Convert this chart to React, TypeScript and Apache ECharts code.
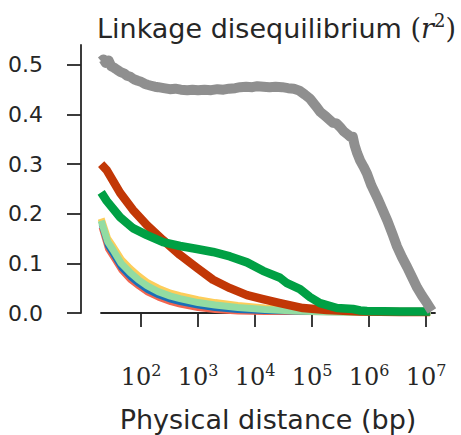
import React, { useEffect, useRef } from "react";
import * as echarts from "echarts";

// Physical distance (bp) and r^2 values for each curve
const grayDist = [20, 22, 24, 27, 30, 34, 38, 43, 50, 57, 65, 75, 88, 100, 115, 130, 150, 175, 200, 250, 320, 400, 500, 650, 800, 1000, 1300, 1700, 2200, 2800, 3500, 4500, 5500, 7000, 9000, 11000, 14000, 18000, 23000, 30000, 38000, 48000, 60000, 75000, 92000, 115000, 140000, 170000, 200000, 235000, 270000, 310000, 360000, 420000, 470000, 520000, 560000, 620000, 700000, 800000, 920000, 1100000, 1400000, 1700000, 2100000, 2600000, 3100000, 3800000, 4700000, 5700000, 7000000, 8500000, 10400000, 12700000];
const grayR2 = [0.507, 0.511, 0.504, 0.509, 0.497, 0.494, 0.49, 0.486, 0.483, 0.478, 0.476, 0.471, 0.468, 0.466, 0.462, 0.46, 0.458, 0.456, 0.455, 0.453, 0.451, 0.452, 0.45, 0.449, 0.45, 0.449, 0.45, 0.449, 0.451, 0.45, 0.452, 0.453, 0.455, 0.456, 0.455, 0.457, 0.456, 0.455, 0.456, 0.455, 0.453, 0.452, 0.448, 0.44, 0.432, 0.418, 0.405, 0.397, 0.39, 0.383, 0.382, 0.375, 0.366, 0.36, 0.355, 0.355, 0.338, 0.322, 0.307, 0.295, 0.281, 0.257, 0.232, 0.21, 0.186, 0.158, 0.134, 0.112, 0.092, 0.072, 0.051, 0.035, 0.02, 0.004];

const redDist = [20, 25, 43, 72, 127, 243, 483, 960, 1830, 3640, 7240, 13800, 27500, 69500, 183000, 692000, 3470000, 11700000];
const redR2 = [0.3, 0.288, 0.242, 0.208, 0.177, 0.147, 0.117, 0.091, 0.067, 0.05, 0.036, 0.028, 0.02, 0.01, 0.006, 0.003, 0.002, 0.002];

const greenDist = [20, 25, 43, 72, 127, 243, 483, 960, 1830, 3640, 7240, 13800, 27500, 36400, 61500, 92300, 138000, 275000, 524000, 700000, 923000, 3470000, 11700000];
const greenR2 = [0.243, 0.226, 0.193, 0.171, 0.157, 0.143, 0.135, 0.129, 0.123, 0.114, 0.102, 0.085, 0.071, 0.06, 0.048, 0.032, 0.02, 0.01, 0.008, 0.005, 0.004, 0.003, 0.003];

const lowDist = [20, 26, 32, 45, 64, 90, 127, 200, 330, 483, 1000, 2000, 5000, 15000, 50000, 200000, 1000000, 12000000];
const yellowR2 = [0.19, 0.15, 0.135, 0.108, 0.09, 0.075, 0.062, 0.05, 0.04, 0.035, 0.027, 0.021, 0.015, 0.01, 0.006, 0.003, 0.002, 0.001];
const lightGreenR2 = [0.186, 0.144, 0.128, 0.1, 0.082, 0.067, 0.055, 0.043, 0.034, 0.029, 0.021, 0.016, 0.011, 0.007, 0.004, 0.002, 0.001, 0.001];
const blueR2 = [0.178, 0.134, 0.118, 0.09, 0.072, 0.058, 0.046, 0.035, 0.026, 0.021, 0.014, 0.009, 0.005, 0.003, 0.002, 0.001, 0.001, 0.001];
const orangeR2 = [0.172, 0.128, 0.112, 0.085, 0.066, 0.053, 0.041, 0.03, 0.021, 0.016, 0.009, 0.005, 0.002, 0.001, 0.001, 0.0005, 0.0005, 0.0005];

const xTickExponents = [2, 3, 4, 5, 6, 7];
const yTicks = [0, 0.1, 0.2, 0.3, 0.4, 0.5];

const toPoints = (d: number[], r: number[]) => d.map((x, i) => [Math.log10(x), r[i]]);

const TEXT = "#262626";

export default function App() {
  const ref = useRef<HTMLDivElement>(null);
  useEffect(() => {
    document.body.style.margin = "0";
    const chart = echarts.init(ref.current!, null, { renderer: "svg" });
    const line = (name: string, d: number[], r: number[], color: string, width: number) => ({
      name,
      type: "line",
      data: toPoints(d, r),
      showSymbol: false,
      symbol: "none",
      lineStyle: { color, width, join: "round" },
      itemStyle: { color },
    });
    chart.setOption({
      animation: false,
      backgroundColor: "#ffffff",
      title: {
        text: "{a|Linkage disequilibrium }{p|(}{i|r}{s|2}{p|)}",
        left: 97,
        top: 11,
        padding: 0,
        textStyle: {
          fontWeight: "normal",
          rich: {
            a: { fontFamily: "DejaVu Sans", fontWeight: "normal", fontSize: 27, color: TEXT, lineHeight: 34 },
            p: { fontFamily: "DejaVu Serif", fontWeight: "normal", fontSize: 27, color: TEXT, lineHeight: 34 },
            i: { fontFamily: "DejaVu Serif", fontWeight: "normal", fontStyle: "italic", fontSize: 27, color: TEXT, lineHeight: 34 },
            s: { fontFamily: "DejaVu Serif", fontWeight: "normal", fontSize: 18, color: TEXT, lineHeight: 18, verticalAlign: "top" },
          },
        },
      },
      grid: { left: 101, right: 26, top: 45, bottom: 122, outerBoundsMode: "none", containLabel: false },
      xAxis: {
        type: "value",
        min: 1.298,
        max: 7.158,
        offset: 19,
        splitLine: { show: false },
        axisLine: { show: true, lineStyle: { color: TEXT, width: 1.8 } },
        axisTick: { show: true, length: 14, customValues: xTickExponents, lineStyle: { color: TEXT, width: 1.8 } },
        axisLabel: {
          customValues: xTickExponents,
          margin: 30,
          formatter: (v: number) => `{b|10}{s|${Math.round(v)}}`,
          rich: {
            b: { fontFamily: "DejaVu Serif", fontSize: 24, color: TEXT, lineHeight: 30 },
            s: { fontFamily: "DejaVu Serif", fontSize: 16, color: TEXT, lineHeight: 16, verticalAlign: "top" },
          },
        },
        name: "Physical distance (bp)",
        nameLocation: "middle",
        nameGap: 73,
        nameTextStyle: { fontFamily: "DejaVu Sans", fontSize: 27, lineHeight: 28, color: TEXT },
      },
      yAxis: {
        type: "value",
        min: 0,
        max: 0.54,
        offset: 20,
        splitLine: { show: false },
        axisLine: { show: true, lineStyle: { color: TEXT, width: 1.8 } },
        axisTick: { show: true, length: 14, customValues: yTicks, lineStyle: { color: TEXT, width: 1.8 } },
        axisLabel: {
          customValues: yTicks,
          margin: 38,
          padding: [5, 0, 0, 0],
          formatter: (v: number) => v.toFixed(1),
          fontFamily: "DejaVu Sans",
          fontSize: 22,
          color: TEXT,
        },
      },
      series: [
        line("orange", lowDist, orangeR2, "#f26650", 5),
        line("blue", lowDist, blueR2, "#1a6fb7", 5),
        line("yellow", lowDist, yellowR2, "#fdcd5a", 7),
        line("lightgreen", lowDist, lightGreenR2, "#93dca2", 7),
        line("red", redDist, redR2, "#c23706", 8.5),
        line("green", greenDist, greenR2, "#00a044", 8.5),
        line("gray", grayDist, grayR2, "#8f8f8f", 10),
      ],
    });
    return () => chart.dispose();
  }, []);
  return <div ref={ref} style={{ width: 461, height: 435, position: "absolute", left: 0, top: 0 }} />;
}
